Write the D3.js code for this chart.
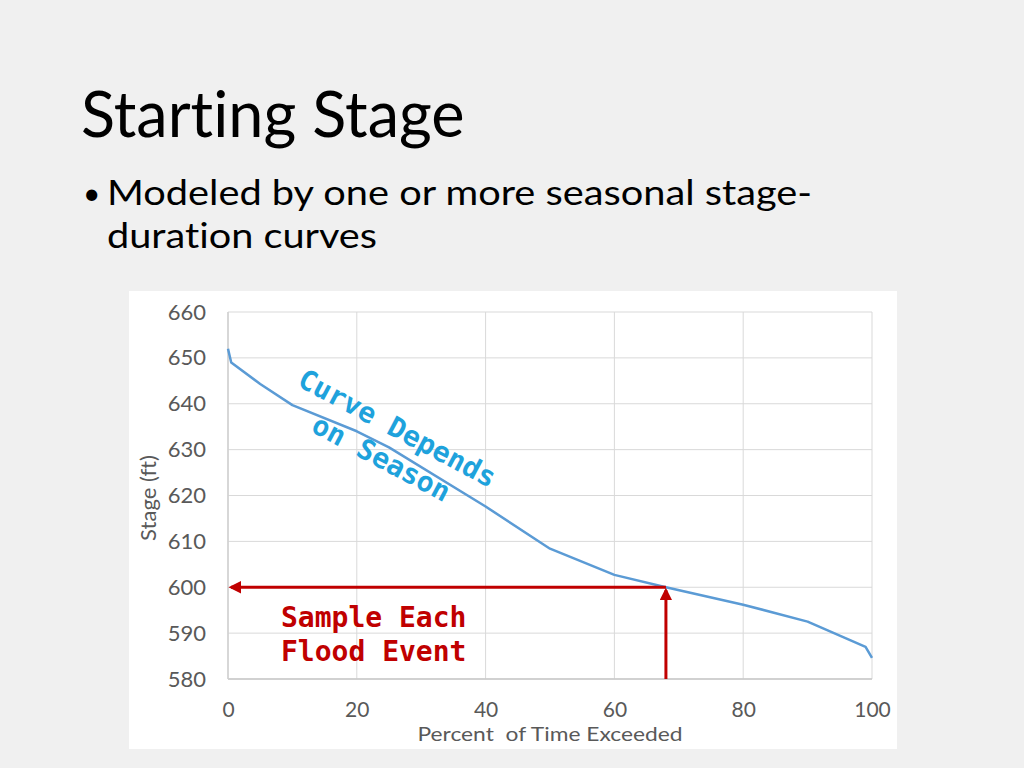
<!DOCTYPE html>
<html><head><meta charset="utf-8">
<script src="https://cdn.jsdelivr.net/npm/d3@7"></script>
<style>html,body{margin:0;padding:0;background:#f0f0f0;}svg{display:block;}text{font-variant-ligatures:none;}</style>
</head><body>
<svg id="c" width="1024" height="768"></svg>
<script>
// Data
const percentExceeded = [0, 0.5, 5, 10, 20, 25, 40, 50, 60, 68, 80, 90, 99, 100];
const stageFt = [652, 649, 644.3, 639.7, 634, 630.5, 617.6, 608.4, 602.7, 600, 596.2, 592.5, 587, 584.6];
const xTicks = [0, 20, 40, 60, 80, 100];
const yTicks = [580, 590, 600, 610, 620, 630, 640, 650, 660];
const samplePercent = 68;
const sampleStage = 600;
const titleText = "Starting Stage";
const bulletLines = ["Modeled by one or more seasonal stage-", "duration curves"];
const curveNote = ["Curve Depends", "on Season"];
const sampleNote = ["Sample Each", "Flood Event"];

const svg = d3.select("#c");
svg.append("rect").attr("width",1024).attr("height",768).attr("fill","#f0f0f0");

// Title and bullet
svg.append("text").attr("x",81).attr("y",137).attr("font-family","Lato").attr("font-size",63)
  .attr("fill","#000").text(titleText);
svg.append("text").attr("x",83).attr("y",204).attr("font-family","Lato").attr("font-size",30).text("•");
const bulletWidths = [705, 270];
bulletLines.forEach((l,i)=>{
  svg.append("text").attr("x",107).attr("y",205+i*43).attr("font-family","Lato").attr("font-size",35)
    .attr("fill","#000").attr("textLength", bulletWidths[i]).attr("lengthAdjust","spacingAndGlyphs").text(l);
});

// Chart box
svg.append("rect").attr("x",129).attr("y",291).attr("width",768).attr("height",458).attr("fill","#fff");

const x = d3.scaleLinear().domain([0,100]).range([228,872]);
const y = d3.scaleLinear().domain([580,660]).range([679,312]);

const g = svg.append("g");
// gridlines
g.selectAll(".hg").data(yTicks).join("line")
  .attr("x1",x(0)).attr("x2",x(100)).attr("y1",d=>y(d)).attr("y2",d=>y(d))
  .attr("stroke","#d9d9d9").attr("stroke-width",1);
g.selectAll(".vg").data(xTicks).join("line")
  .attr("y1",y(580)).attr("y2",y(660)).attr("x1",d=>x(d)).attr("x2",d=>x(d))
  .attr("stroke","#d9d9d9").attr("stroke-width",1);
// axis lines
g.append("line").attr("x1",x(0)).attr("x2",x(100)).attr("y1",y(580)).attr("y2",y(580)).attr("stroke","#c8c8c8").attr("stroke-width",1.5);
g.append("line").attr("x1",x(0)).attr("x2",x(0)).attr("y1",y(580)).attr("y2",y(660)).attr("stroke","#d0d0d0").attr("stroke-width",1.5);

// axes tick labels via d3 axes
const yAxis = d3.axisLeft(y).tickValues(yTicks).tickSize(0).tickPadding(22);
const ya = svg.append("g").attr("transform",`translate(${x(0)},0)`).call(yAxis);
ya.select(".domain").remove();
ya.selectAll("text").attr("font-family","Lato").attr("font-size",22).attr("fill","#595959");

const xAxis = d3.axisBottom(x).tickValues(xTicks).tickSize(0).tickPadding(23);
const xa = svg.append("g").attr("transform",`translate(0,${y(580)})`).call(xAxis);
xa.select(".domain").remove();
xa.selectAll("text").attr("font-family","Lato").attr("font-size",21).attr("fill","#595959");

svg.append("text").attr("x",550).attr("y",741).attr("text-anchor","middle")
  .attr("font-family","Lato").attr("font-size",19.5).attr("fill","#595959")
  .attr("textLength",265).attr("lengthAdjust","spacingAndGlyphs")
  .attr("xml:space","preserve").text("Percent  of Time Exceeded");
svg.append("text").attr("transform","translate(156,498) rotate(-90)").attr("text-anchor","middle")
  .attr("font-family","Lato").attr("font-size",22).attr("fill","#595959").text("Stage (ft)");

// curve
const line = d3.line().x((d,i)=>x(percentExceeded[i])).y(d=>y(d));
svg.append("path").datum(stageFt).attr("d",line).attr("fill","none")
  .attr("stroke","#5b9bd5").attr("stroke-width",2.5).attr("stroke-linejoin","round");

// arrows
const defs = svg.append("defs");
defs.append("marker").attr("id","ah").attr("viewBox","0 0 10 10").attr("refX",8).attr("refY",5)
  .attr("markerWidth",4.2).attr("markerHeight",4.2).attr("orient","auto")
  .attr("markerUnits","strokeWidth")
  .append("path").attr("d","M0,0 L10,5 L0,10 z").attr("fill","#c00000");
const red = "#c00000";
svg.append("line").attr("x1",x(samplePercent)).attr("y1",y(580)).attr("x2",x(samplePercent)).attr("y2",y(sampleStage)+3)
  .attr("stroke",red).attr("stroke-width",3).attr("marker-end","url(#ah)");
svg.append("line").attr("x1",x(samplePercent)).attr("y1",y(sampleStage)).attr("x2",x(0)+3).attr("y2",y(sampleStage))
  .attr("stroke",red).attr("stroke-width",3).attr("marker-end","url(#ah)");

// annotations
sampleNote.forEach((l,i)=>{
  svg.append("text").attr("x",281).attr("y",627+i*34).attr("font-family","DejaVu Sans Mono")
    .attr("font-weight","bold").attr("font-size",28).attr("fill",red)
    .attr("stroke","#fff").attr("stroke-width",0.6).attr("paint-order","stroke")
    .text(l);
});
const cg = svg.append("g").attr("transform","translate(390,442) rotate(28)");
curveNote.forEach((l,i)=>{
  cg.append("text").attr("x",0).attr("y",-6+i*34).attr("text-anchor","middle")
    .attr("font-family","DejaVu Sans Mono").attr("font-weight","bold").attr("font-size",28)
    .attr("fill","#1ea2dc").text(l);
});
</script>
</body></html>
